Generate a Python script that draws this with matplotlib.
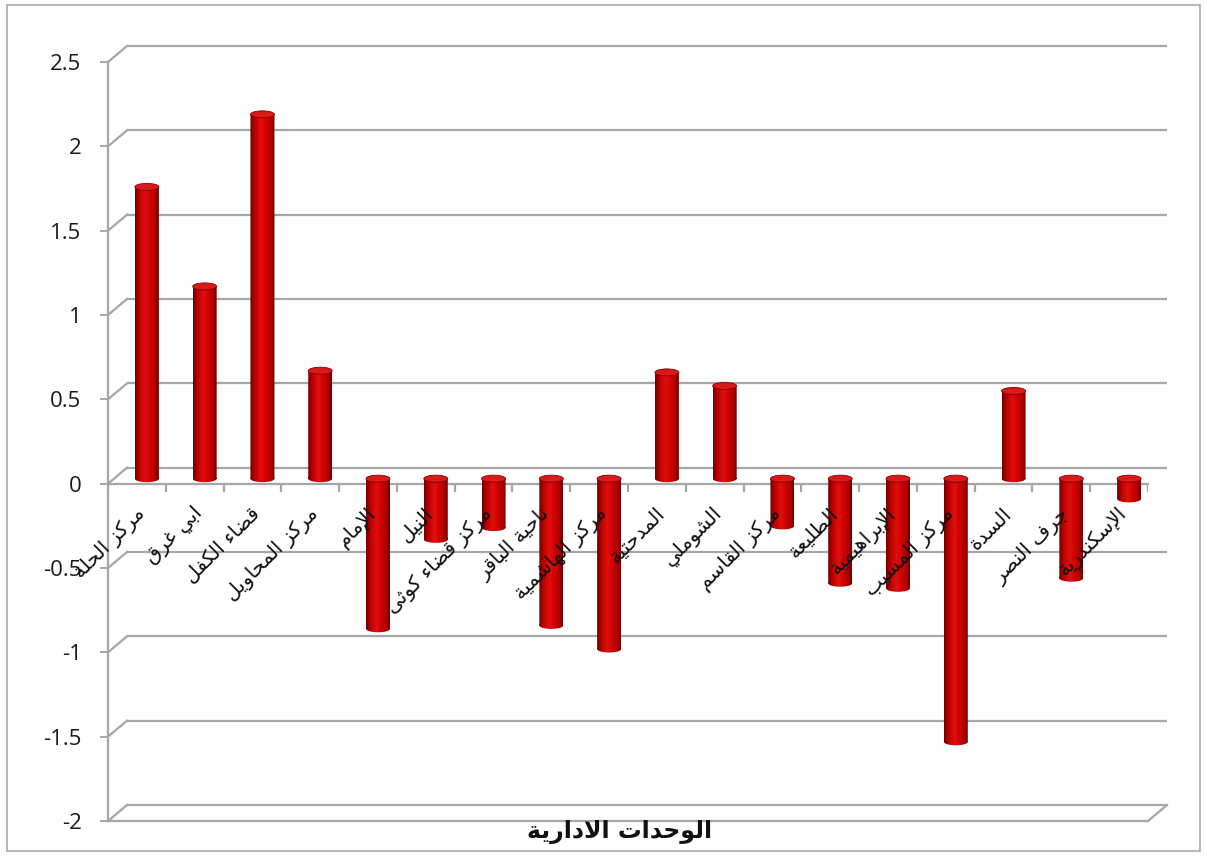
import matplotlib
matplotlib.use("Agg")
import matplotlib.pyplot as plt
import matplotlib.patches as mpatches
from matplotlib.path import Path
from matplotlib.colors import LinearSegmentedColormap
import numpy as np

# ---------------- data ----------------
categories = [
    "مركز الحلة", "ابي غرق", "قضاء الكفل", "مركز المحاويل", "الإمام", "النيل",
    "مركز قضاء كوثى", "ناحية الباقر", "مركز الهاشمية", "المدحتية", "الشوملي",
    "مركز القاسم", "الطليعة", "الإبراهيمية", "مركز المسيب", "السدة",
    "جرف النصر", "الإسكندرية",
]
values = [1.73, 1.14, 2.16, 0.64, -0.89, -0.36, -0.29, -0.87, -1.01, 0.63,
          0.55, -0.28, -0.62, -0.65, -1.56, 0.52, -0.59, -0.12]
yticks = [-2, -1.5, -1, -0.5, 0, 0.5, 1, 1.5, 2, 2.5]
ytick_labels = ["-2", "-1.5", "-1", "-0.5", "0", "0.5", "1", "1.5", "2", "2.5"]
axis_title = "الوحدات الادارية"

# ---------------- Arabic shaping (presentation forms) ----------------
FORMS = {  # isolated, final, initial, medial
    'ء': (0xFE80, None, None, None),
    'آ': (0xFE81, 0xFE82, None, None),
    'أ': (0xFE83, 0xFE84, None, None),
    'ؤ': (0xFE85, 0xFE86, None, None),
    'إ': (0xFE87, 0xFE88, None, None),
    'ئ': (0xFE89, 0xFE8A, 0xFE8B, 0xFE8C),
    'ا': (0xFE8D, 0xFE8E, None, None),
    'ب': (0xFE8F, 0xFE90, 0xFE91, 0xFE92),
    'ة': (0xFE93, 0xFE94, None, None),
    'ت': (0xFE95, 0xFE96, 0xFE97, 0xFE98),
    'ث': (0xFE99, 0xFE9A, 0xFE9B, 0xFE9C),
    'ج': (0xFE9D, 0xFE9E, 0xFE9F, 0xFEA0),
    'ح': (0xFEA1, 0xFEA2, 0xFEA3, 0xFEA4),
    'خ': (0xFEA5, 0xFEA6, 0xFEA7, 0xFEA8),
    'د': (0xFEA9, 0xFEAA, None, None),
    'ذ': (0xFEAB, 0xFEAC, None, None),
    'ر': (0xFEAD, 0xFEAE, None, None),
    'ز': (0xFEAF, 0xFEB0, None, None),
    'س': (0xFEB1, 0xFEB2, 0xFEB3, 0xFEB4),
    'ش': (0xFEB5, 0xFEB6, 0xFEB7, 0xFEB8),
    'ص': (0xFEB9, 0xFEBA, 0xFEBB, 0xFEBC),
    'ض': (0xFEBD, 0xFEBE, 0xFEBF, 0xFEC0),
    'ط': (0xFEC1, 0xFEC2, 0xFEC3, 0xFEC4),
    'ظ': (0xFEC5, 0xFEC6, 0xFEC7, 0xFEC8),
    'ع': (0xFEC9, 0xFECA, 0xFECB, 0xFECC),
    'غ': (0xFECD, 0xFECE, 0xFECF, 0xFED0),
    'ف': (0xFED1, 0xFED2, 0xFED3, 0xFED4),
    'ق': (0xFED5, 0xFED6, 0xFED7, 0xFED8),
    'ك': (0xFED9, 0xFEDA, 0xFEDB, 0xFEDC),
    'ل': (0xFEDD, 0xFEDE, 0xFEDF, 0xFEE0),
    'م': (0xFEE1, 0xFEE2, 0xFEE3, 0xFEE4),
    'ن': (0xFEE5, 0xFEE6, 0xFEE7, 0xFEE8),
    'ه': (0xFEE9, 0xFEEA, 0xFEEB, 0xFEEC),
    'و': (0xFEED, 0xFEEE, None, None),
    'ى': (0xFEEF, 0xFEF0, None, None),
    'ي': (0xFEF1, 0xFEF2, 0xFEF3, 0xFEF4),
}
LAM_ALEF = {'آ': (0xFEF5, 0xFEF6), 'أ': (0xFEF7, 0xFEF8),
            'إ': (0xFEF9, 0xFEFA), 'ا': (0xFEFB, 0xFEFC)}


def dual(c):
    return c in FORMS and FORMS[c][2] is not None


def joins(c):
    return c in FORMS and FORMS[c][1] is not None


def shape(text):
    out = []
    chars = list(text)
    i = 0
    n = len(chars)
    while i < n:
        c = chars[i]
        if c not in FORMS:
            out.append(c)
            i += 1
            continue
        prev = chars[i - 1] if i > 0 else None
        con_prev = prev is not None and dual(prev) and joins(c)
        if c == 'ل' and i + 1 < n and chars[i + 1] in LAM_ALEF:
            iso, fin = LAM_ALEF[chars[i + 1]]
            out.append(chr(fin if con_prev else iso))
            i += 2
            continue
        nxt = chars[i + 1] if i + 1 < n else None
        con_next = nxt is not None and dual(c) and joins(nxt)
        iso, fin, ini, med = FORMS[c]
        if con_prev and con_next:
            g = med
        elif con_prev:
            g = fin
        elif con_next:
            g = ini
        else:
            g = iso
        out.append(chr(g))
        i += 1
    return ''.join(reversed(out))


# ---------------- figure ----------------
W, H = 1207, 857
fig = plt.figure(figsize=(W / 100, H / 100), dpi=100)
L, R, T, B = 108, 1148, 62, 821
ax = fig.add_axes([L / W, (H - B) / H, (R - L) / W, (B - T) / H])
n = len(categories)
ax.set_xlim(-0.5, n - 0.5)
ax.set_ylim(-2, 2.5)
pxx = (R - L) / n
pxy = (B - T) / 4.5
for s in ax.spines.values():
    s.set_visible(False)
ax.set_xticks([])
ax.set_yticks(yticks)
ax.set_yticklabels(ytick_labels)
ax.tick_params(axis='y', length=6, width=1.4, color='#A6A6A6', pad=13,
               labelsize=16, labelcolor='#1a1a1a')
for t in ax.get_yticklabels():
    t.set_fontfamily('Open Sans')

grid_c = '#A6A6A6'
gw = 1.6
bdx, bdy = 19 / pxx, 16 / pxy   # back-wall offset
x0, x1 = -0.5, n - 0.5

# gridlines on back wall with left diagonals
for v in yticks:
    ax.plot([x0 + bdx, x1 + bdx], [v + bdy, v + bdy], color=grid_c, lw=gw,
            clip_on=False, zorder=1, solid_capstyle='butt')
    ax.plot([x0, x0 + bdx], [v, v + bdy], color=grid_c, lw=gw,
            clip_on=False, zorder=1)
# front vertical axis
ax.plot([x0, x0], [yticks[0], yticks[-1]], color=grid_c, lw=gw,
        clip_on=False, zorder=1)
# floor front edge and right diagonal
ax.plot([x0, x1], [yticks[0], yticks[0]], color=grid_c, lw=gw, clip_on=False, zorder=1)
ax.plot([x1, x1 + bdx], [yticks[0], yticks[0] + bdy], color=grid_c, lw=gw,
        clip_on=False, zorder=1)
# category axis at zero with ticks
ax.plot([x0, x1], [0, 0], color=grid_c, lw=gw, clip_on=False, zorder=1)
bounds = np.arange(n + 1) - 0.5
ax.vlines(bounds, 0, -8 / pxy, color=grid_c, lw=gw, zorder=1)

# ---------------- cylinders ----------------
mdx, mdy = 10 / pxx, 5 / pxy
bw = 24 / pxx
eh = 7 / pxy
xs = np.arange(n) + mdx
bars = ax.bar(xs, values, bottom=mdy, width=bw, color='#B00000',
              edgecolor='none', zorder=3)
cmap = LinearSegmentedColormap.from_list(
    'cyl', [(0, '#700000'), (0.2, '#C00000'), (0.45, '#E01010'),
            (0.65, '#D00000'), (0.88, '#A80000'), (1, '#6A0000')])
grad = np.linspace(0, 1, 64).reshape(1, -1)
for rect, v in zip(bars, values):
    rx, ry = rect.get_x(), rect.get_y()
    rw, rh = rect.get_width(), rect.get_height()
    y_lo = min(ry, ry + rh)
    y_hi = max(ry, ry + rh)
    rect.set_visible(False)
    body = Path([(rx, y_lo), (rx + rw, y_lo), (rx + rw, y_hi), (rx, y_hi), (rx, y_lo)],
                [Path.MOVETO, Path.LINETO, Path.LINETO, Path.LINETO, Path.CLOSEPOLY])
    circ = Path.unit_circle()
    ell_verts = circ.vertices * np.array([rw / 2, eh / 2]) + np.array([rx + rw / 2, y_lo])
    ell = Path(ell_verts, circ.codes)
    clip = Path.make_compound_path(body, ell)
    im = ax.imshow(grad, extent=[rx, rx + rw, y_lo - eh, y_hi], aspect='auto',
                   cmap=cmap, zorder=3, interpolation='bilinear', origin='lower')
    im.set_clip_path(clip, ax.transData)
    cap = mpatches.Ellipse((rx + rw / 2, y_hi), rw, eh, facecolor='#D81A1A',
                           edgecolor='#8A0000', lw=0.6, zorder=4)
    ax.add_patch(cap)

ax.set_xlim(-0.5, n - 0.5)
ax.set_ylim(-2, 2.5)

# ---------------- category labels ----------------
for i, lab in enumerate(categories):
    ax.text(i + 5 / pxx, -27 / pxy, shape(lab), rotation=45, rotation_mode='anchor',
            ha='right', va='center', fontsize=14.5, family=['DejaVu Sans'],
            color='#111111', zorder=5)

fig.text(620 / W, 1 - 832 / H, shape(axis_title), ha='center', va='center',
         fontsize=17, fontweight='bold', family=['DejaVu Sans'], color='#111111')

# outer border
fig.patches.append(mpatches.Rectangle((7 / W, 1 - 851 / H), 1193 / W, 846 / H,
                                      transform=fig.transFigure, fill=False,
                                      edgecolor='#AAAAAA', lw=1.2))

fig.savefig('out.png', dpi=100)
